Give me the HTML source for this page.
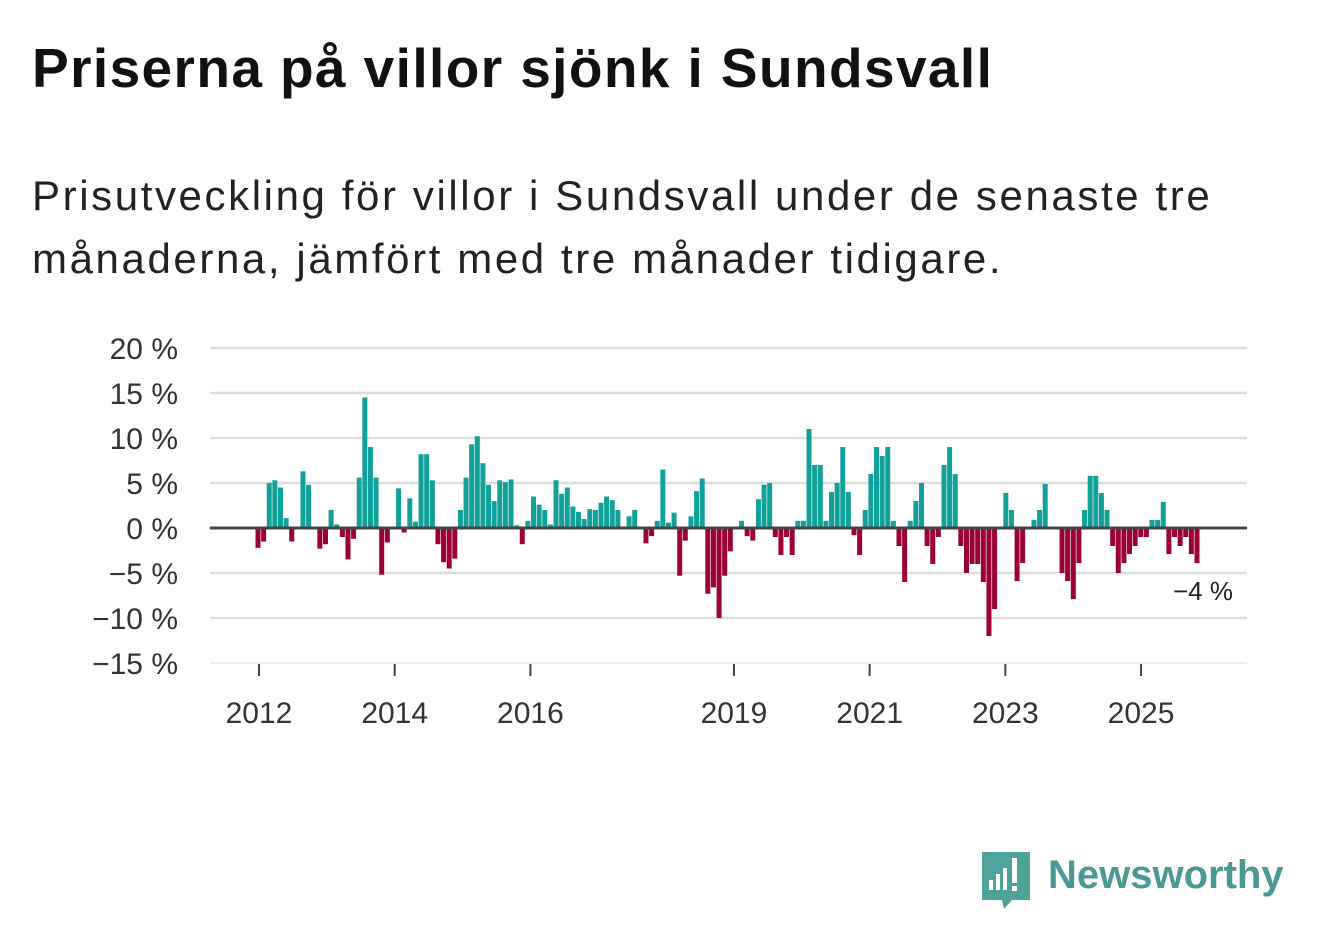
<!DOCTYPE html>
<html><head><meta charset="utf-8"><style>
body{margin:0;width:1322px;height:939px;background:#fff;font-family:"Liberation Sans",sans-serif;overflow:hidden;position:relative}
#title{position:absolute;left:32px;top:36px;font-size:55px;font-weight:bold;color:#111;margin:0;letter-spacing:1.4px;white-space:nowrap}
#sub{position:absolute;left:32px;top:164px;font-size:42px;line-height:63px;color:#222;margin:0;width:1290px;letter-spacing:2.6px;white-space:nowrap}
svg{position:absolute;left:0;top:0}
</style></head><body>
<h1 id="title">Priserna på villor sjönk i Sundsvall</h1>
<p id="sub">Prisutveckling för villor i Sundsvall under de senaste tre<br>månaderna, jämfört med tre månader tidigare.</p>
<svg id="chart" width="1322" height="939"></svg>
<script>
const values=[-2.2,-1.5,5,5.3,4.5,1.1,-1.5,0,6.3,4.8,0,-2.3,-1.8,2,0.4,-1,-3.5,-1.2,5.6,14.5,9,5.6,-5.2,-1.6,0,4.4,-0.5,3.3,0.7,8.2,8.2,5.3,-1.8,-3.8,-4.5,-3.4,2,5.6,9.3,10.2,7.2,4.8,3,5.3,5.1,5.4,0.3,-1.8,0.8,3.5,2.6,2,0.4,5.3,3.8,4.5,2.4,1.8,1,2.1,2,2.8,3.5,3.1,2,0,1.3,2,0,-1.7,-0.9,0.8,6.5,0.6,1.7,-5.3,-1.4,1.3,4.1,5.5,-7.3,-6.6,-10,-5.3,-2.6,0,0.8,-0.9,-1.4,3.2,4.8,5,-1,-3,-1,-3,0.8,0.8,11,7,7,0.8,4,5,9,4,-0.8,-3,
2,6,9,8,9,0.8,-2,-6,0.8,3,5,-2,-4,-1,7,9,6,-2,-5,-4,-4,-6,-12,-9,0,3.9,2,-5.9,-3.9,0,0.9,2,4.9,0,0,-5,-5.9,-7.9,-3.9,2,5.8,5.8,3.9,2,-2,-5,-3.9,-2.9,-2,-1,-1,0.9,0.9,2.9,-2.9,-1,-2,-1,-2.9,-3.9];
const yTicks=[20,15,10,5,0,-5,-10,-15];
const yTickLabels=["20 %","15 %","10 %","5 %","0 %","−5 %","−10 %","−15 %"];
const xTickYears=[2012,2014,2016,2019,2021,2023,2025];
const lastLabel="−4 %";
const NS="http://www.w3.org/2000/svg";
const svg=document.getElementById('chart');
const y=v=>528-v*9;
const step=(1197-258)/167;
const x=i=>258+i*step;
const xYear=yr=>259+(yr-2012)*67.85;
function mk(t,a){const e=document.createElementNS(NS,t);for(const k in a)e.setAttribute(k,a[k]);svg.appendChild(e);return e;}
yTicks.forEach((t,k)=>{
  if(t!==0){const g=mk('line',{x1:210,x2:1247,y1:y(t),y2:y(t),stroke:'#dddddd','stroke-width':t===-15?1:2.5});
  
  }
  const l=mk('text',{x:178,y:y(t)+11,'text-anchor':'end','font-size':30,fill:'#333'});
  l.textContent=yTickLabels[k];
  
  
});
values.forEach((v,i)=>{
  if(v===0)return;
  const b=mk('rect',{x:x(i)-2.5,width:5,y:Math.min(y(v),y(0)),height:Math.abs(y(v)-y(0)),fill:v>0?'#12a19a':'#9b0036'});
  
  
});
const z=mk('line',{x1:210,x2:1247,y1:y(0),y2:y(0),stroke:'#444','stroke-width':3});


xTickYears.forEach(yr=>{
  const xi=xYear(yr);
  const t=mk('line',{x1:xi,x2:xi,y1:664,y2:676,stroke:'#444','stroke-width':2});
  
  
  const l=mk('text',{x:xi,y:723,'text-anchor':'middle','font-size':30,fill:'#333'});
  l.textContent=yr;
  
  
});
const ll=mk('text',{x:1233,y:y(values[values.length-1])+37,'text-anchor':'end','font-size':26,fill:'#222'});
ll.textContent=lastLabel;


</script>
<svg width="1322" height="939">
  <path d="M982 852 h48 v48 h-18 l-8 9 l-2-9 h-20 z" fill="#4fa39a"/>
  <rect x="989" y="880" width="4" height="10" fill="#fff"/>
  <rect x="996" y="874" width="4" height="16" fill="#fff"/>
  <rect x="1003" y="868" width="4" height="22" fill="#fff"/>
  <rect x="1012" y="858" width="5" height="25" fill="#fff"/>
  <rect x="1012" y="886" width="5" height="5" fill="#fff"/>
  <text x="1048" y="888" font-size="40" font-weight="bold" fill="#4a9a93" font-family="Liberation Sans, sans-serif">Newsworthy</text>
</svg>
</body></html>
